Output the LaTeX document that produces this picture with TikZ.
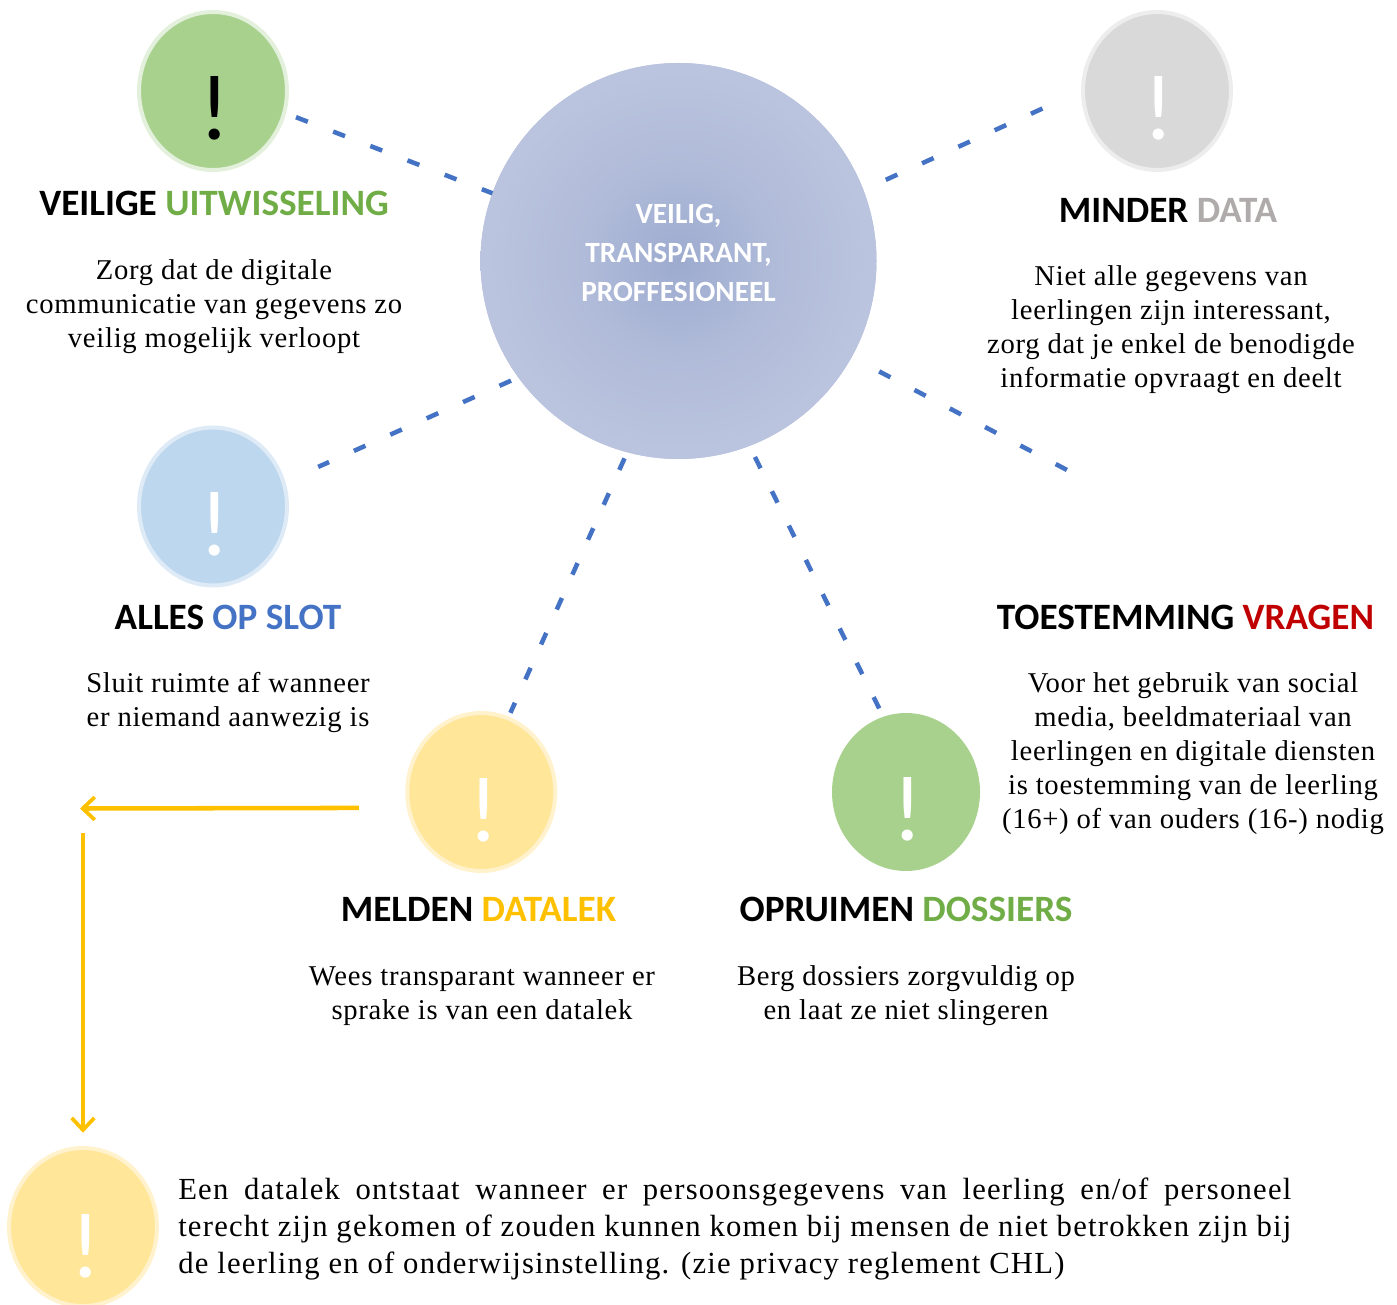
\documentclass[tikz,border=0pt]{standalone}
\usepackage{fontspec}
\usepackage{xcolor}
\usetikzlibrary{shapes.geometric,arrows.meta}
\setmainfont{Liberation Serif}[LetterSpace=2.5]
\newfontfamily\kopfont{Carlito}
\newfontfamily\langfont{Liberation Serif}[LetterSpace=4]

\definecolor{kopgroen}{HTML}{70AD47}
\definecolor{kopgrijs}{HTML}{AFABAB}
\definecolor{kopblauw}{HTML}{4472C4}
\definecolor{koprood}{HTML}{C00000}
\definecolor{kopgeel}{HTML}{FFC000}
\definecolor{hubin}{HTML}{9DABCF}
\definecolor{hubmidden}{HTML}{B0BBD9}
\definecolor{hubuit}{HTML}{BAC4DE}
\definecolor{bolgroen}{HTML}{A9D18E}
\definecolor{randgroen}{HTML}{E3F0DB}
\definecolor{bolgrijs}{HTML}{D9D9D9}
\definecolor{randgrijs}{HTML}{EDEDED}
\definecolor{bolblauw}{HTML}{BDD7EE}
\definecolor{randblauw}{HTML}{DEEBF7}
\definecolor{bolgeel}{HTML}{FFE699}
\definecolor{randgeel}{HTML}{FFF2CC}

\pgfdeclareradialshading{hubkleur}{\pgfpoint{0bp}{0bp}}{color(0bp)=(hubin); color(12bp)=(hubmidden); color(24bp)=(hubuit); color(50bp)=(hubuit)}

\tikzset{
  bol/.style={ellipse,minimum width=111pt,minimum height=118.5pt,inner sep=0pt,line width=3pt},
  uitroep/.style={font=\kopfont\fontsize{70pt}{70pt}\selectfont,inner sep=0pt,text=white},
  kop/.style={font=\kopfont\bfseries\fontsize{27.9pt}{30pt}\selectfont,anchor=base,inner sep=0pt},
  tekst/.style={font=\fontsize{21.5pt}{25.5pt}\selectfont,align=center,anchor=north,inner sep=0pt},
  streep/.style={kopblauw,line width=3.4pt,dash pattern=on 9.5pt off 20.4pt},
  korter/.style={dash pattern=on 9.5pt off 19.2pt},
  pijl/.style={kopgeel,line width=3.4pt,-{Straight Barb[length=9pt,width=17pt,line width=2.8pt]}}
}

\begin{document}
\begin{tikzpicture}[x=0.75pt,y=-0.75pt]
  \useasboundingbox (0,0) rectangle (1397,1305);

  % middelste bol
  \node[circle,minimum size=297pt,inner sep=0pt,outer sep=0pt,fill=hubuit,shading=hubkleur] (hub) at (678.5,261) {};
  \node[font=\kopfont\bfseries\fontsize{22pt}{29pt}\selectfont,text=white,align=center,inner sep=0pt] (hubtekst) at (678.5,253)
    {VEILIG,\\TRANSPARANT,\\PROFFESIONEEL};

  % bollen
  \node[bol,fill=bolgroen,draw=randgroen] (veilig) at (213,91) {};
  \node[bol,fill=bolgrijs,draw=randgrijs] (minder) at (1157,91) {};
  \node[bol,fill=bolblauw,draw=randblauw] (slot) at (213,506.5) {};
  \node[bol,fill=bolgeel,draw=randgeel] (melden) at (481.3,792) {};
  \node[bol,fill=bolgroen] (opruimen) at (906,792) {};
  \node[bol,fill=bolgeel,draw=randgeel] (lek) at (83,1227) {};

  \node[uitroep,text=black] (uitroep1) at (215,108.5) {!};
  \node[uitroep] (uitroep2) at (1159,108.5) {!};
  \node[uitroep] (uitroep3) at (215,524) {!};
  \node[uitroep] (uitroep4) at (483.5,810) {!};
  \node[uitroep] (uitroep5) at (908,809) {!};
  \node[uitroep] (uitroep6) at (86,1246) {!};

  % koppen
  \node[kop] (kop1) at (214,216) {VEILIGE \textcolor{kopgroen}{UITWISSELING}};
  \node[kop] (kop2) at (1168,223) {MINDER \textcolor{kopgrijs}{DATA}};
  \node[kop] (kop3) at (228,629) {ALLES \textcolor{kopblauw}{OP SLOT}};
  \node[kop] (kop4) at (1185.5,629) {TOESTEMMING \textcolor{koprood}{VRAGEN}};
  \node[kop] (kop5) at (478.5,921) {MELDEN \textcolor{kopgeel}{DATALEK}};
  \node[kop] (kop6) at (906,921) {OPRUIMEN \textcolor{kopgroen}{DOSSIERS}};

  % teksten
  \node[tekst] (tekst1) at (214,259) {Zorg dat de digitale\\communicatie van gegevens zo\\veilig mogelijk verloopt};
  \node[tekst] (tekst2) at (1171,265) {Niet alle gegevens van\\leerlingen zijn interessant,\\zorg dat je enkel de benodigde\\informatie opvraagt en deelt};
  \node[tekst] (tekst3) at (228,672) {Sluit ruimte af wanneer\\er niemand aanwezig is};
  \node[tekst] (tekst4) at (1193,672) {Voor het gebruik van social\\media, beeldmateriaal van\\leerlingen en digitale diensten\\is toestemming van de leerling\\(16+) of van ouders (16-) nodig};
  \node[tekst] (tekst5) at (482,966) {Wees transparant wanneer er\\sprake is van een datalek};
  \node[tekst] (tekst6) at (906,965) {Berg dossiers zorgvuldig op\\en laat ze niet slingeren};
  \node[font=\langfont\fontsize{23pt}{27.7pt}\selectfont,text width=834.75pt,align=justify,anchor=north west,inner sep=0pt] (tekst7) at (178,1178)
    {Een datalek ontstaat wanneer er persoonsgegevens van leerling en/of personeel\linebreak
     terecht zijn gekomen of zouden kunnen komen bij mensen de niet betrokken zijn bij\linebreak
     de leerling en of onderwijsinstelling. (zie privacy reglement CHL)};

  % stippellijnen
  \coordinate (vrij) at (1067,470);
  \draw[streep,shorten <=8pt] (veilig.-17.7) -- (hub.160.5);
  \draw[streep,shorten <=18.5pt,shorten >=31pt] (hub.21.6) -- (minder.180);
  \draw[streep,shorten <=6pt,shorten >=27pt] (hub.216) -- (slot.19.1);
  \draw[streep,korter,shorten <=5pt,shorten >=3pt] (hub.255.8) -- (melden.70);
  \draw[streep,korter,shorten <=9.3pt,shorten >=2.5pt] (hub.291) -- (opruimen.107.3);
  \draw[streep,shorten <=23.3pt] (hub.331.5) -- (vrij);

  % pijlen
  \coordinate (knik1) at (80,808.5);
  \coordinate (knik2) at (83,833);
  \draw[pijl,shorten <=36pt] (melden.192) -- (knik1);
  \draw[pijl,shorten >=10pt] (knik2) -- (lek.north);
\end{tikzpicture}
\end{document}
